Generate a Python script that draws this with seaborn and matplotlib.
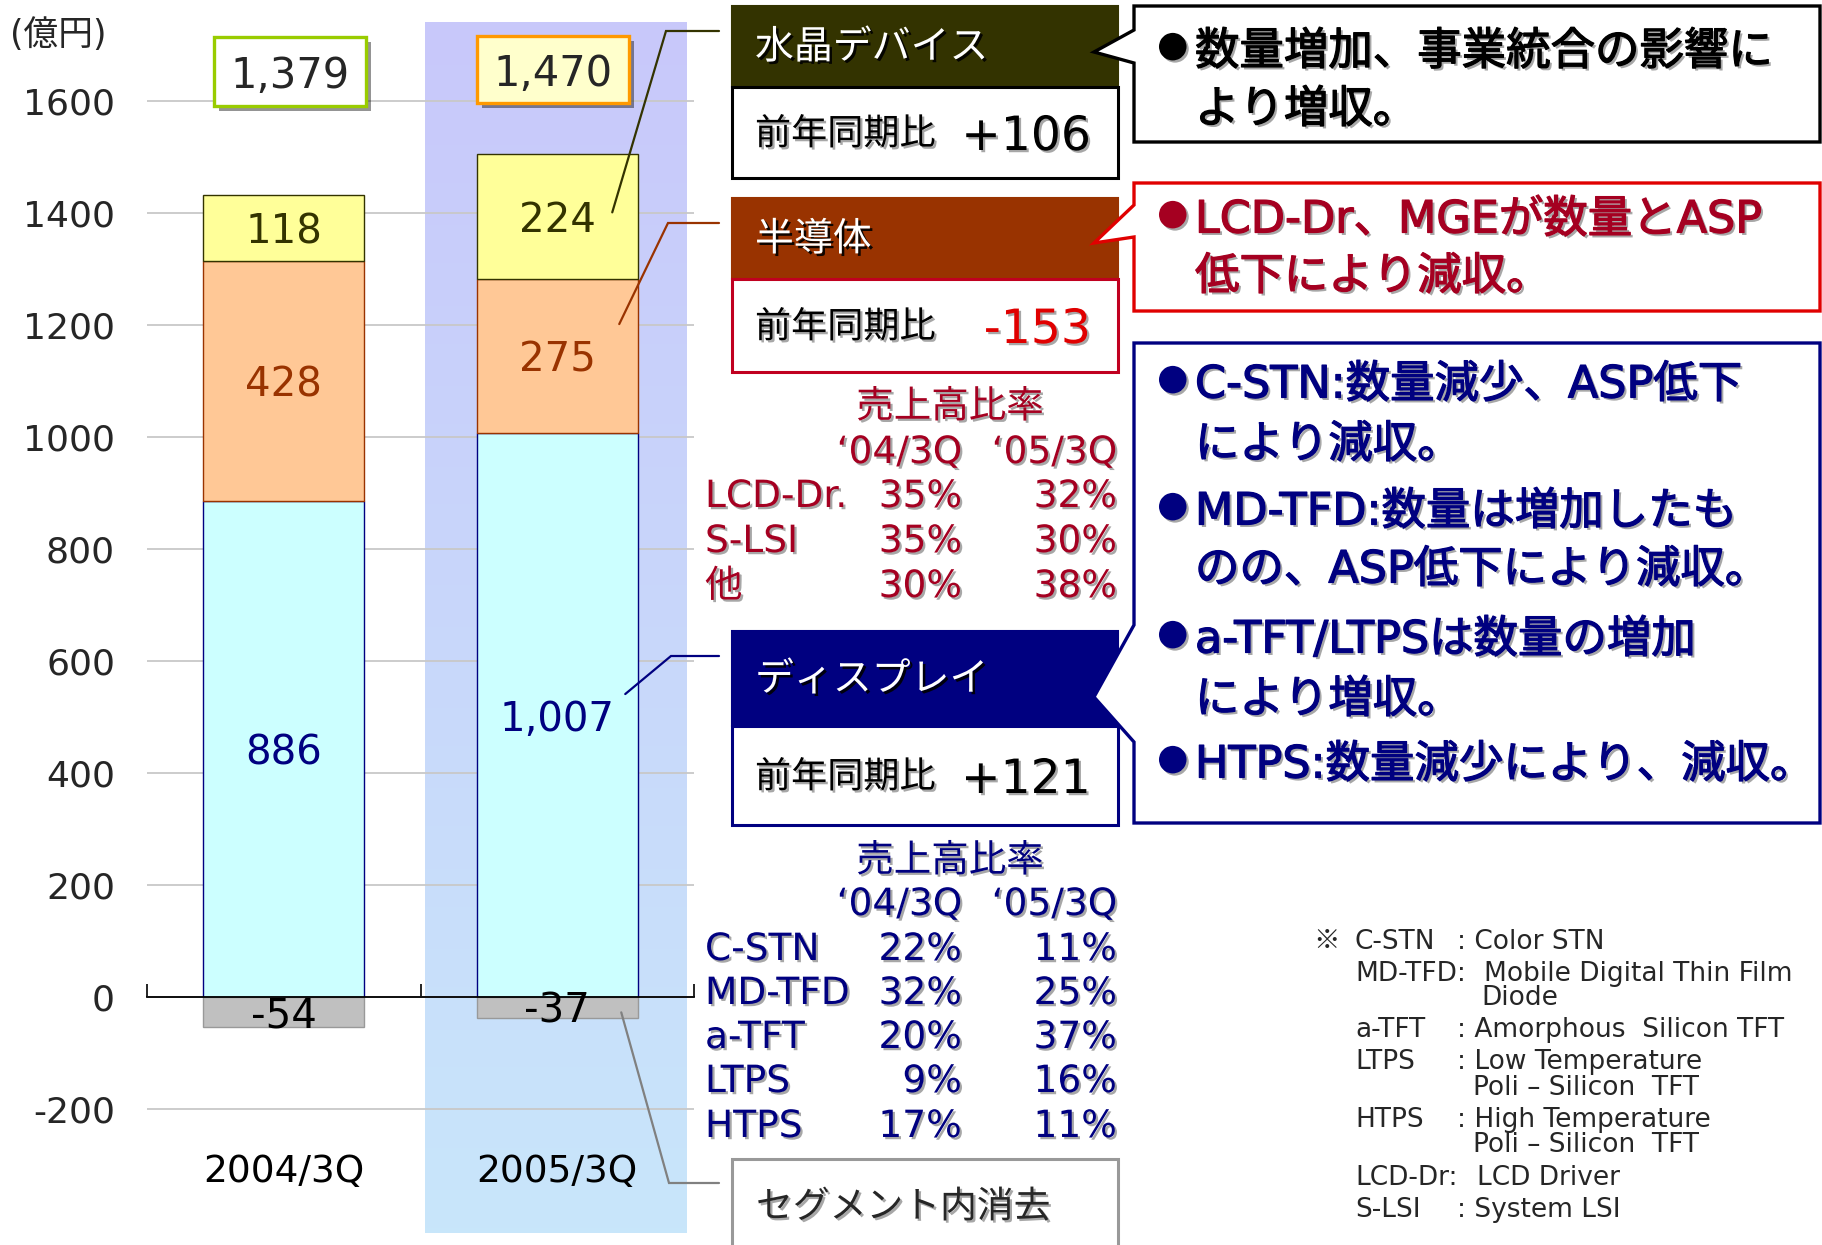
import numpy as np
import pandas as pd
import matplotlib
matplotlib.use("Agg")
import matplotlib.pyplot as plt
import matplotlib.patheffects as pe
from matplotlib.patches import Rectangle, Polygon
from matplotlib.colors import LinearSegmentedColormap
import seaborn as sns

# ---------------- data ----------------
periods = ["2004/3Q", "2005/3Q"]
display_vals = [886, 1007]
semi_vals = [428, 275]
crystal_vals = [118, 224]
elim_vals = [-54, -37]
totals = [1379, 1470]
y_ticks = [-200, 0, 200, 400, 600, 800, 1000, 1200, 1400, 1600]
unit_label = "(億円)"

seg_names = ["水晶デバイス", "半導体", "ディスプレイ"]
yoy_label = "前年同期比"
elim_label = "セグメント内消去"

ratio_title = "売上高比率"
ratio_cols = ["‘04/3Q", "‘05/3Q"]
semi_rows = ["LCD-Dr.", "S-LSI", "他"]
semi_04 = ["35%", "35%", "30%"]
semi_05 = ["32%", "30%", "38%"]
disp_rows = ["C-STN", "MD-TFD", "a-TFT", "LTPS", "HTPS"]
disp_04 = ["22%", "32%", "20%", "9%", "17%"]
disp_05 = ["11%", "25%", "37%", "16%", "11%"]

crystal_note = ["数量増加、事業統合の影響に", "より増収。"]
crystal_bullets = [True, False]
semi_note = ["LCD-Dr、MGEが数量とASP", "低下により減収。"]
semi_bullets = [True, False]
disp_note = ["C-STN:数量減少、ASP低下", "により減収。",
             "MD-TFD:数量は増加したも", "のの、ASP低下により減収。",
             "a-TFT/LTPSは数量の増加", "により増収。",
             "HTPS:数量減少により、減収。"]
disp_bullets = [True, False, True, False, True, False, True]

gloss_terms = ["C-STN", "MD-TFD:", "", "a-TFT", "LTPS", "", "HTPS", "", "LCD-Dr:", "S-LSI"]
gloss_defs = [": Color STN", "Mobile Digital Thin Film", "Diode", ": Amorphous  Silicon TFT",
              ": Low Temperature", "Poli – Silicon  TFT", ": High Temperature",
              "Poli – Silicon  TFT", "LCD Driver", ": System LSI"]

# ---------------- style ----------------
sns.set_style("white")
plt.rcParams['font.family'] = ['DejaVu Sans', 'Noto Sans CJK JP']
plt.rcParams['axes.unicode_minus'] = False

NAVY = '#000080'
BROWN = '#993300'
OLIVE = '#333300'
CRIMSON = '#A50021'
RED = '#E00000'

W, H = 1822, 1245
fig = plt.figure(figsize=(W / 100, H / 100), dpi=100)
fig.patch.set_facecolor('white')

ax_l, ax_r, ax_t, ax_b = 147, 694, 22, 1233
ax = fig.add_axes([ax_l / W, 1 - ax_b / H, (ax_r - ax_l) / W, (ax_b - ax_t) / H], zorder=1)
y0_px, ppu = 997, 0.56
ymax = (y0_px - ax_t) / ppu
ymin = (y0_px - ax_b) / ppu

# highlight band for 2005/3Q (gradient)
cmap = LinearSegmentedColormap.from_list('hl', ['#C8C8FA', '#C8E6FA'])
grad = np.linspace(0, 1, 256).reshape(-1, 1)
ax.imshow(grad, extent=(0.518, 1.474, ymin, ymax), origin='upper', cmap=cmap,
          aspect='auto', zorder=0)

df = pd.DataFrame({"period": periods, "display": display_vals, "semi": semi_vals,
                   "crystal": crystal_vals, "elim": elim_vals})
bw = 0.59
common = dict(data=df, x="period", width=bw, saturation=1, errorbar=None, ax=ax, zorder=2)
sns.barplot(y="display", color='#CCFFFF', edgecolor=NAVY, linewidth=1.0, **common)
sns.barplot(y="semi", bottom=df["display"].to_numpy(), color='#FFC896', edgecolor=BROWN,
            linewidth=1.0, **common)
sns.barplot(y="crystal", bottom=(df["display"] + df["semi"]).to_numpy(), color='#FFFF99',
            edgecolor=OLIVE, linewidth=1.0, **common)
sns.barplot(y="elim", color='#C0C0C0', edgecolor='#999999', linewidth=1.0, **common)

ax.set_xlabel('')
ax.set_ylabel('')
ax.set_xlim(-0.5, 1.5)
ax.set_ylim(ymin, ymax)
ax.set_yticks(y_ticks)
ax.set_yticklabels([str(v) for v in y_ticks])
ax.tick_params(axis='y', left=False, length=0, pad=23, labelsize=26)
ax.yaxis.grid(True, color='#C8C8C8', lw=1.3)
ax.xaxis.grid(False)
ax.set_axisbelow(True)
for s in ['left', 'right', 'top']:
    ax.spines[s].set_visible(False)
ax.spines['bottom'].set_position(('data', 0))
ax.spines['bottom'].set_color('black')
ax.spines['bottom'].set_linewidth(1.3)
ax.spines['bottom'].set_zorder(3)
ax.set_xticks([-0.5, 0.5, 1.5])
ax.set_xticklabels([])
ax.tick_params(axis='x', bottom=True, direction='in', length=9.5, width=1.2, color='black')

# segment value labels
lab = dict(ha='center', va='center_baseline', fontsize=29, zorder=4)
for i in range(2):
    d, s, c, e = display_vals[i], semi_vals[i], crystal_vals[i], elim_vals[i]
    ax.text(i, d / 2, f"{d:,}", color=NAVY, **lab)
    ax.text(i, d + s / 2, f"{s:,}", color=BROWN, **lab)
    ax.text(i, d + s + c / 2, f"{c:,}", color=OLIVE, **lab)
    ax.text(i, e / 2, f"{e:,}", color='black', **lab)
    ax.text(i, -305, periods[i], ha='center', va='center_baseline', fontsize=27, color='black')

# ---------------- overlay (pixel coordinates) ----------------
ov = fig.add_axes([0, 0, 1, 1], zorder=5)
ov.set_xlim(0, W)
ov.set_ylim(H, 0)
ov.axis('off')
ov.patch.set_alpha(0)

def d2p(x, y):
    return ov.transData.inverted().transform(ax.transData.transform((x, y)))

sh_dark = [pe.SimplePatchShadow(offset=(1.6, -1.6), shadow_rgbFace='#606060', alpha=0.55), pe.Normal()]
sh_white = [pe.SimplePatchShadow(offset=(1.8, -1.8), shadow_rgbFace='black', alpha=0.9), pe.Normal()]
JP = 'Noto Sans CJK JP'

def sh_bold(col):
    return [pe.SimplePatchShadow(offset=(1.8, -1.8), shadow_rgbFace='#606060', alpha=0.55),
            pe.Stroke(linewidth=0.9, foreground=col), pe.Normal()]

def rect(x0, y0, x1, y1, fc='white', ec='none', lw=0, z=1):
    ov.add_patch(Rectangle((x0, y0), x1 - x0, y1 - y0, fc=fc, ec=ec, lw=lw, zorder=z))

# unit label
ov.text(10, 35, unit_label, ha='left', va='center', fontsize=25)

# total boxes
tot_boxes = [(214, 37, 366, 106, 'white', '#99CC00'), (477, 36, 629, 103, '#FFFFCC', '#FF9900')]
for (x0, y0, x1, y1, fc, ec), t in zip(tot_boxes, totals):
    ov.add_patch(Rectangle((x0 + 5, y0 + 5), x1 - x0, y1 - y0, fc='black', alpha=0.42, lw=0, zorder=1))
    rect(x0, y0, x1, y1, fc=fc, ec=ec, lw=2.4, z=2)
    ov.text((x0 + x1) / 2, (y0 + y1) / 2, f"{t:,}", ha='center', va='center_baseline',
            fontsize=30, zorder=3)

# leader lines
lead_specs = [
    (d2p(1, display_vals[1] + semi_vals[1] + crystal_vals[1] / 2), (55, -4), [(666, 31), (719, 31)], OLIVE),
    (d2p(1, display_vals[1] + semi_vals[1] / 2), (62, -32), [(668, 223), (719, 223)], BROWN),
    (d2p(1, display_vals[1] / 2), (68, -21), [(671, 656), (719, 656)], NAVY),
    (d2p(1, elim_vals[1] / 2), (64, 5), [(669, 1183), (719, 1183)], '#808080'),
]
for (px, py), (dx, dy), rest, col in lead_specs:
    pts = [(px + dx, py + dy)] + rest
    xs, ys = zip(*pts)
    ov.plot(xs, ys, color=col, lw=1.6, zorder=4, solid_joinstyle='miter')

# segment header/boxes
BX0, BX1 = 732, 1118
seg_boxes = [
    (6, 87, 178, OLIVE, 'black'),
    (198, 279, 372, BROWN, '#C00020'),
    (631, 726, 825, NAVY, NAVY),
]
yoy = [crystal_vals[1] - crystal_vals[0], semi_vals[1] - semi_vals[0], display_vals[1] - display_vals[0]]
yoy_cols = ['black', RED, 'black']
for (yt, ym, yb, hc, bc), name, dv, vc in zip(seg_boxes, seg_names, yoy, yoy_cols):
    rect(BX0, yt, BX1, ym, fc=hc, ec=hc, lw=1.5, z=2)
    rect(BX0, ym, BX1, yb, fc='white', ec=bc, lw=2.2, z=2)
    ov.text(755, (yt + ym) / 2 + 1, name, ha='left', va='center', fontsize=28, color='white',
            family=JP, path_effects=sh_white, zorder=3)
    ov.text(755, (ym + yb) / 2 + 2, yoy_label, ha='left', va='center', fontsize=26, color='black',
            family=JP, path_effects=sh_dark, zorder=3)
    ov.text(1091, (ym + yb) / 2, f"{dv:+d}", ha='right', va='center_baseline', fontsize=34,
            color=vc, path_effects=sh_dark, zorder=3)

# elimination box
rect(BX0, 1159, BX1, 1260, fc='white', ec='#999999', lw=2.2, z=2)
ov.text(756, 1207, elim_label, ha='left', va='center', fontsize=26.5, family=JP,
        path_effects=sh_dark, zorder=3)

# callouts
CX0, CX1 = 1134, 1820
callouts = [
    (6, 142, (30, 52, 63), 'black', 'black', crystal_note, crystal_bullets, [52, 110]),
    (183, 311, (205, 243, 237), RED, CRIMSON, semi_note, semi_bullets, [220, 277]),
    (343, 823, (625, 697, 742), NAVY, NAVY, disp_note, disp_bullets,
     [385, 445, 512, 570, 640, 700, 765]),
]
for yt, yb, (p1, ptip, p2), ec, tc, lines, bullets, ys in callouts:
    poly = [(CX0, yt), (CX1, yt), (CX1, yb), (CX0, yb), (CX0, p2), (1094, ptip), (CX0, p1)]
    ov.add_patch(Polygon(poly, closed=True, fc='white', ec=ec, lw=2.4, zorder=2, joinstyle='miter'))
    for txt, b, y in zip(lines, bullets, ys):
        if b:
            ov.text(1157, y - 6, "●", ha='left', va='center', fontsize=26, color=tc,
                    path_effects=sh_dark, zorder=3)
        ov.text(1195, y, txt, ha='left', va='center', fontsize=32, color=tc,
                path_effects=sh_bold(tc), zorder=3)

# ratio tables
def table(y_title, y_head, y_rows, rows, c04, c05, col):
    kw = dict(va='center', fontsize=27, color=col, path_effects=sh_dark, zorder=3)
    ov.text(950, y_title, ratio_title, ha='center', family=JP, **kw)
    ov.text(962, y_head, ratio_cols[0], ha='right', **kw)
    ov.text(1117, y_head, ratio_cols[1], ha='right', **kw)
    for r, a, b, y in zip(rows, c04, c05, y_rows):
        ov.text(705, y, r, ha='left', **kw)
        ov.text(962, y, a, ha='right', **kw)
        ov.text(1117, y, b, ha='right', **kw)

table(407, 453, [497, 542, 587], semi_rows, semi_04, semi_05, CRIMSON)
table(861, 905, [950, 994, 1038, 1082, 1127], disp_rows, disp_04, disp_05, NAVY)

# glossary
gy = [942, 974, 998, 1030, 1062, 1088, 1120, 1145, 1178, 1210]
ov.text(1313, gy[0], "※", ha='left', va='center', fontsize=19, family=JP)
for term, dfn, y in zip(gloss_terms, gloss_defs, gy):
    if term:
        ov.text(1355, y, term, ha='left', va='center', fontsize=19)
    if dfn.startswith(":"):
        dx = 1457
    elif dfn.startswith("Poli"):
        dx = 1473
    elif dfn == "Diode":
        dx = 1481
    elif term == "MD-TFD:":
        dx = 1484
    else:
        dx = 1477
    ov.text(dx, y, dfn, ha='left', va='center', fontsize=19)

fig.savefig("out.png", dpi=100, facecolor='white')
